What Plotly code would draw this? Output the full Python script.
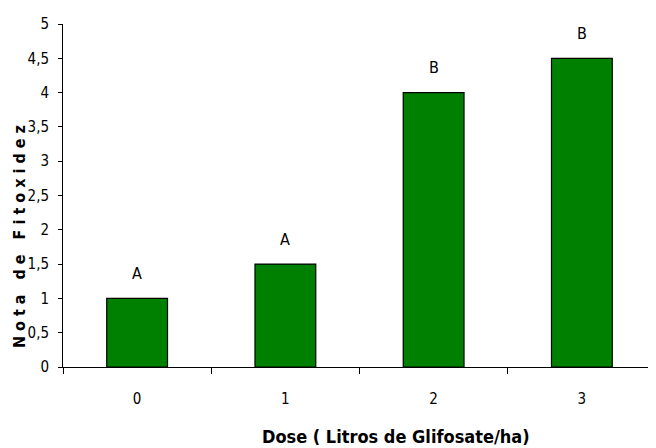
import plotly.graph_objects as go

doses = ["0", "1", "2", "3"]
notas = [1.0, 1.5, 4.0, 4.5]
letras = ["A", "A", "B", "B"]
y_ticks = [0, 0.5, 1, 1.5, 2, 2.5, 3, 3.5, 4, 4.5, 5]
y_tick_text = ["0", "0,5", "1", "1,5", "2", "2,5", "3", "3,5", "4", "4,5", "5"]
x_title = "Dose ( Litros de Glifosate/ha)"
y_title = "Nota de Fitoxidez"

FONT = "DejaVu Sans Condensed, Liberation Sans Narrow, Arial Narrow, sans-serif"
NB = "\u00a0"

fig = go.Figure()
fig.add_trace(go.Bar(
    x=doses, y=notas, width=0.41,
    marker=dict(color="#008000", line=dict(color="#000000", width=1.2)),
    showlegend=False,
))

for d, v, l in zip(doses, notas, letras):
    fig.add_annotation(x=d, y=v, text=l, showarrow=False, yshift=25,
                       font=dict(family=FONT, size=16, color="#000000"))

fig.add_annotation(xref="paper", yref="paper", x=0.5616, y=-0.204,
                   text="<b>" + x_title + "</b>", showarrow=False,
                   yanchor="middle", font=dict(family=FONT, size=18, color="#000000"))

spaced = NB.join(NB if c == " " else c for c in y_title)
fig.add_annotation(xref="paper", yref="paper", x=-0.0735, y=0.38,
                   xanchor="center", yanchor="middle",
                   text="<b>" + spaced + "</b>", textangle=-90, showarrow=False,
                   font=dict(family=FONT, size=16, color="#000000"))

fig.update_layout(
    width=648, height=440,
    margin=dict(l=55, r=0, t=16, b=81, autoexpand=False),
    paper_bgcolor="white", plot_bgcolor="white",
    font=dict(family=FONT, size=15, color="#000000"),
    xaxis=dict(type="category", range=[-0.5, 3.5], tickson="boundaries",
               ticks="outside", ticklen=6, tickcolor="#000000", tickwidth=1,
               showline=True, linecolor="#000000", linewidth=1,
               showgrid=False, zeroline=False, ticklabelstandoff=18,
               automargin=False, tickfont=dict(family=FONT, size=15)),
    yaxis=dict(range=[0, 5], tickvals=y_ticks, ticktext=y_tick_text,
               ticks="outside", ticklen=4, tickcolor="#000000", tickwidth=1,
               showline=True, linecolor="#000000", linewidth=1,
               showgrid=False, zeroline=False, ticklabelstandoff=6,
               automargin=False, tickfont=dict(family=FONT, size=15)),
)

fig.write_html("out.html")
